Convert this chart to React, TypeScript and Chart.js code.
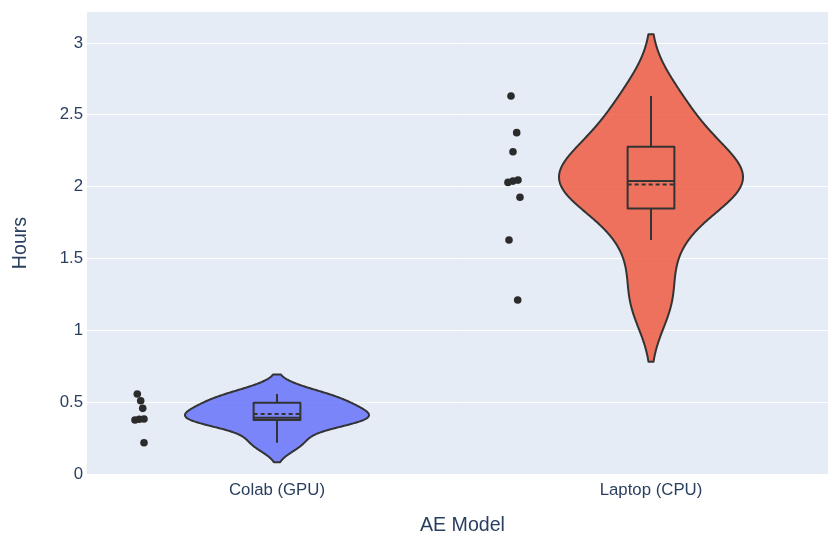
import React, { useEffect, useRef } from "react";
import { Chart, registerables } from "chart.js";

Chart.register(...registerables);

// ---- data ----
const categories = ["Colab (GPU)", "Laptop (CPU)"];
const colabHours = [0.557, 0.51, 0.457, 0.376, 0.381, 0.383, 0.218];
const laptopHours = [2.631, 2.376, 2.243, 2.03, 2.039, 2.046, 1.926, 1.629, 1.211];
// horizontal jitter of the plotted points (category units)
const colabJitter = [-0.0085, 0.0006, 0.006, -0.0147, -0.0032, 0.0094, 0.0094];
const laptopJitter = [-0.0093, 0.0059, -0.004, -0.0174, -0.004, 0.0094, 0.0147, -0.0147, 0.0086];
// box statistics
const q1Values = [0.376, 1.849];
const medianValues = [0.392, 2.039];
const q3Values = [0.496, 2.278];
const whiskerLow = [0.218, 1.629];
const whiskerHigh = [0.557, 2.631];
const meanValues = [0.418, 2.016];
// kernel bandwidths of the violins
const bandwidths = [0.068, 0.215];
const yTicks = [0, 0.5, 1, 1.5, 2, 2.5, 3];

// ---- style ----
const FILLS = ["rgba(99,110,250,0.82)", "rgba(239,85,59,0.82)"];
const LINE = "#333333";
const FONT = "'Liberation Sans', Arial, sans-serif";
const TEXT = "#2a3f5f";
const POINT_POS = -0.365;
const VIOLIN_HALF = 0.246;
const BOX_HALF = 0.0625;

const groups = [colabHours, laptopHours];
const jitters = [colabJitter, laptopJitter];

const violinPlugin = {
  id: "violins",
  beforeDraw(chart: any) {
    const { ctx, chartArea: a } = chart;
    ctx.save();
    ctx.fillStyle = "#E5ECF6";
    ctx.fillRect(a.left, a.top, a.right - a.left, a.bottom - a.top);
    ctx.restore();
  },
  beforeDatasetsDraw(chart: any) {
    const { ctx, chartArea: a } = chart;
    const xs = chart.scales.x;
    const ys = chart.scales.y;
    ctx.save();
    ctx.beginPath();
    ctx.rect(a.left, a.top, a.right - a.left, a.bottom - a.top);
    ctx.clip();
    groups.forEach((vals, i) => {
      const bw = bandwidths[i];
      const lo = Math.min(...vals) - 2 * bw;
      const hi = Math.max(...vals) + 2 * bw;
      const N = 200;
      const yv: number[] = [];
      const dv: number[] = [];
      let maxD = 0;
      for (let k = 0; k <= N; k++) {
        const y = lo + ((hi - lo) * k) / N;
        let d = 0;
        for (const v of vals) {
          const z = (y - v) / bw;
          d += Math.exp(-0.5 * z * z);
        }
        yv.push(y);
        dv.push(d);
        if (d > maxD) maxD = d;
      }
      ctx.beginPath();
      for (let k = 0; k <= N; k++) {
        const px = xs.getPixelForValue(i - (VIOLIN_HALF * dv[k]) / maxD);
        const py = ys.getPixelForValue(yv[k]);
        if (k === 0) ctx.moveTo(px, py);
        else ctx.lineTo(px, py);
      }
      for (let k = N; k >= 0; k--) {
        const px = xs.getPixelForValue(i + (VIOLIN_HALF * dv[k]) / maxD);
        const py = ys.getPixelForValue(yv[k]);
        ctx.lineTo(px, py);
      }
      ctx.closePath();
      ctx.fillStyle = FILLS[i];
      ctx.fill();
      ctx.lineWidth = 2;
      ctx.lineJoin = "round";
      ctx.strokeStyle = LINE;
      ctx.stroke();

      // box
      const cx = xs.getPixelForValue(i);
      const bl = xs.getPixelForValue(i - BOX_HALF);
      const br = xs.getPixelForValue(i + BOX_HALF);
      const pq1 = ys.getPixelForValue(q1Values[i]);
      const pq3 = ys.getPixelForValue(q3Values[i]);
      const pmed = ys.getPixelForValue(medianValues[i]);
      const pmean = ys.getPixelForValue(meanValues[i]);
      const plo = ys.getPixelForValue(whiskerLow[i]);
      const phi = ys.getPixelForValue(whiskerHigh[i]);
      ctx.strokeStyle = LINE;
      ctx.lineWidth = 2;
      ctx.beginPath();
      ctx.moveTo(cx, phi);
      ctx.lineTo(cx, pq3);
      ctx.moveTo(cx, pq1);
      ctx.lineTo(cx, plo);
      ctx.stroke();
      ctx.strokeRect(bl, pq3, br - bl, pq1 - pq3);
      ctx.beginPath();
      ctx.moveTo(bl, pmed);
      ctx.lineTo(br, pmed);
      ctx.stroke();
      ctx.setLineDash([4, 3]);
      ctx.beginPath();
      ctx.moveTo(bl, pmean);
      ctx.lineTo(br, pmean);
      ctx.stroke();
      ctx.setLineDash([]);
    });
    ctx.restore();
  },
};

export default function App() {
  const ref = useRef<HTMLCanvasElement | null>(null);
  useEffect(() => {
    if (!ref.current) return;
    const pointData = groups.map((vals, i) =>
      vals.map((v, j) => ({ x: i + POINT_POS + jitters[i][j], y: v }))
    );
    const chart = new Chart(ref.current, {
      type: "scatter",
      data: {
        datasets: pointData.map((d, i) => ({
          label: categories[i],
          data: d,
          pointRadius: 3.8,
          pointHoverRadius: 3.8,
          pointBackgroundColor: "#2b2b2b",
          pointBorderColor: "#2b2b2b",
          pointBorderWidth: 0,
        })),
      },
      options: {
        responsive: false,
        animation: false,
        events: [],
        layout: { autoPadding: false, padding: { top: 12, right: 0, left: 0, bottom: 0 } },
        plugins: { legend: { display: false }, tooltip: { enabled: false } },
        scales: {
          x: {
            type: "linear",
            min: -0.508,
            max: 1.5,
            afterFit: (s: any) => {
              s.height = 66;
              s.paddingLeft = 0;
              s.paddingRight = 0;
            },
            afterBuildTicks: (s: any) => {
              s.ticks = categories.map((_, i) => ({ value: i }));
            },
            ticks: {
              callback: (v: any) => categories[Math.round(Number(v))] ?? "",
              font: { family: FONT, size: 16.8 },
              color: TEXT,
              padding: 6,
              maxRotation: 0,
              autoSkip: false,
            },
            grid: { display: false, drawTicks: false },
            border: { display: false },
            title: {
              display: true,
              text: "AE Model",
              font: { family: FONT, size: 19.6 },
              color: TEXT,
              padding: { top: 0, bottom: 2.2 },
            },
          },
          y: {
            type: "linear",
            min: 0,
            max: 3.216,
            afterFit: (s: any) => {
              s.width = 87;
              s.paddingTop = 0;
              s.paddingBottom = 0;
            },
            afterBuildTicks: (s: any) => {
              s.ticks = yTicks.map((v) => ({ value: v }));
            },
            ticks: {
              callback: (v: any) => String(v),
              font: { family: FONT, size: 16.8 },
              color: TEXT,
              padding: 4,
            },
            grid: { color: "#ffffff", lineWidth: 1, drawTicks: false },
            border: { display: false },
            title: {
              display: true,
              text: "Hours",
              font: { family: FONT, size: 19.6 },
              color: TEXT,
              padding: { top: 8.7, bottom: 0 },
            },
          },
        },
      },
      plugins: [violinPlugin],
    });
    return () => chart.destroy();
  }, []);
  return (
    <div
      style={{
        position: "absolute",
        left: 0,
        top: 0,
        width: 828,
        height: 540,
        overflow: "hidden",
      }}
    >
      <canvas ref={ref} width={838} height={540} style={{ display: "block" }} />
    </div>
  );
}
